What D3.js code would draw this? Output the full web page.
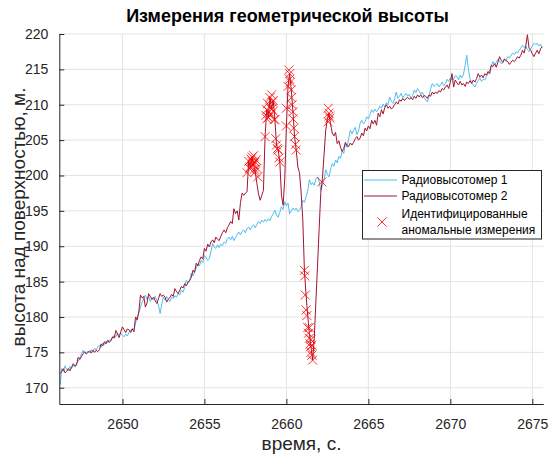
<!DOCTYPE html>
<html>
<head>
<meta charset="utf-8">
<script src="https://cdn.jsdelivr.net/npm/d3@7"></script>
<style>
  html, body { margin: 0; padding: 0; background: #fff; }
  svg { display: block; font-family: "Liberation Sans", Arial, Helvetica, sans-serif; }
</style>
</head>
<body>
<svg id="chart" width="548" height="455"></svg>
<script>
// Sampling of both altimeters: 10 Hz starting at t = 2646.2 s
const sampleStart = 2646.2;
const sampleStep = 0.1;

// Radio altimeter 1, m (one row per second)
const altimeter1 = [
  170.4, 172.7, 172.3, 173.1, 172.6, 172.4, 173.0, 172.7, 173.2, 172.9,
  173.4, 173.7, 174.2, 174.8, 175.3, 174.9, 174.8, 175.2, 174.9, 175.4,
  175.1, 175.6, 175.3, 175.8, 176.0, 175.7, 176.3, 176.1, 176.6, 176.4,
  176.8, 176.6, 177.1, 177.4, 177.2, 177.7, 177.5, 177.7, 177.4, 177.2,
  177.6, 177.3, 177.8, 178.1, 178.4, 178.2, 179.1, 180.0, 180.6, 181.4,
  182.1, 182.6, 183.1, 182.5, 182.9, 182.2, 182.7, 182.4, 182.9, 182.3,
  181.6, 180.5, 181.8, 182.8, 182.4, 182.9, 182.5, 182.2, 182.8, 182.6,
  183.0, 182.8, 183.3, 183.1, 183.8, 183.5, 184.2, 185.2, 184.8, 185.0,
  186.2, 185.8, 186.4, 186.9, 187.5, 187.2, 188.0, 187.7, 188.7, 188.4,
  188.0, 188.3, 189.2, 190.4, 189.9, 189.7, 190.2, 189.8, 190.3, 190.1,
  190.6, 190.4, 191.0, 191.3, 190.9, 191.4, 190.8, 191.2, 191.7, 192.0,
  191.6, 192.1, 192.3, 191.9, 192.5, 192.7, 192.3, 192.8, 193.0, 192.6,
  193.1, 193.5, 193.2, 193.7, 193.4, 193.8, 193.5, 193.9, 193.6, 194.2,
  194.6, 195.1, 194.4, 194.1, 194.8, 195.6, 195.2, 196.3, 195.7, 196.1,
  194.6, 195.0, 195.4, 195.1, 195.4, 194.9, 195.1, 195.6, 196.5, 196.2,
  197.0, 197.8, 199.4, 198.7, 199.0, 198.6, 199.5, 199.8, 199.2, 197.9,
  198.6, 199.4, 200.8, 200.2, 199.8, 200.9, 201.7, 201.3, 202.2, 201.8,
  202.7, 202.4, 203.5, 203.1, 204.5, 204.0, 205.2, 206.4, 205.9, 206.4,
  206.8, 205.8, 206.3, 207.4, 207.8, 207.3, 207.6, 208.3, 208.0, 208.6,
  209.3, 208.9, 209.4, 209.0, 209.3, 209.8, 209.5, 210.1, 209.7, 210.3,
  210.0, 211.1, 210.5, 210.2, 210.8, 211.8, 210.9, 211.2, 211.6, 211.0,
  211.3, 211.6, 211.2, 211.5, 210.9, 211.3, 212.1, 211.7, 212.3, 211.9,
  211.5, 211.8, 211.0, 210.7, 210.4, 211.2, 212.3, 213.0, 212.6, 212.8,
  213.0, 212.5, 212.8, 213.2, 212.7, 213.0, 213.6, 213.3, 213.8, 213.5,
  213.6, 214.1, 214.0, 213.5, 214.2, 213.8, 214.3, 215.5, 217.0, 215.0,
  213.7, 213.1, 212.8, 212.5, 213.0, 213.4, 213.8, 213.3, 213.6, 213.5,
  214.0, 214.4, 214.9, 215.5, 216.1, 215.6, 216.0, 216.4, 216.2, 215.8,
  215.9, 216.4, 216.2, 216.8, 216.6, 217.0, 217.3, 217.1, 217.5, 217.3,
  217.7, 218.0, 218.4, 218.1, 218.3, 217.8, 217.5, 217.9, 218.3, 218.7,
  218.5, 218.7, 218.3, 218.6, 218.1
];

// Radio altimeter 2, m (one row per second)
const altimeter2 = [
  172.0, 172.3, 172.7, 172.1, 172.3, 172.7, 172.4, 172.9, 173.4, 173.1,
  173.2, 174.3, 174.0, 174.4, 174.8, 175.1, 174.8, 175.0, 175.2, 174.9,
  175.3, 175.0, 175.3, 175.1, 175.4, 176.2, 175.9, 176.5, 176.2, 176.7,
  176.4, 176.7, 177.2, 177.0, 178.1, 177.6, 177.1, 177.9, 178.6, 178.2,
  177.8, 178.3, 178.2, 177.8, 178.3, 177.9, 180.0, 179.6, 180.7, 183.1,
  182.7, 182.9, 181.4, 182.0, 183.3, 182.9, 182.5, 182.8, 182.3, 181.9,
  182.6, 183.3, 182.9, 183.1, 182.8, 182.1, 182.5, 182.8, 183.2, 182.9,
  184.0, 183.6, 183.3, 183.8, 184.3, 184.1, 184.7, 184.4, 184.9, 185.2,
  185.6, 186.6, 186.3, 187.6, 187.2, 188.0, 188.5, 188.2, 189.7, 189.3,
  190.3, 189.9, 190.6, 190.9, 190.5, 191.3, 191.0, 190.8, 191.4, 191.9,
  192.3, 191.9, 192.6, 193.0, 193.5, 193.2, 195.3, 194.6, 195.0, 193.7,
  196.2, 197.5, 197.2, 197.5, 197.7, 202.0, 201.2, 202.6, 201.5, 200.5,
  198.9, 197.4, 196.5, 197.2, 197.9, 205.5, 209.3, 208.2, 211.0, 209.4,
  210.6, 207.9, 204.3, 203.6, 201.9, 197.2, 195.8, 199.5, 207.0, 212.6,
  214.4, 212.1, 209.0, 205.5, 203.6, 201.2, 200.4, 197.6, 193.8, 186.6,
  183.1, 180.2, 177.7, 175.8, 173.9, 177.0, 182.2, 187.3, 192.5, 197.6,
  199.6, 203.0, 206.4, 207.9, 208.8, 207.2, 206.0, 205.6, 206.1, 204.5,
  204.9, 204.0, 203.4, 203.8, 204.7, 204.2, 204.1, 204.6, 204.3, 204.7,
  205.2, 205.5, 205.0, 205.3, 206.0, 205.6, 206.7, 206.3, 207.0, 206.6,
  207.8, 207.3, 207.8, 207.1, 208.8, 208.3, 209.3, 208.7, 209.6, 210.0,
  209.5, 209.8, 209.4, 209.6, 210.0, 210.4, 210.1, 210.7, 210.5, 210.9,
  210.6, 210.9, 211.0, 210.8, 211.0, 210.7, 211.2, 210.9, 211.4, 211.1,
  211.4, 211.0, 211.3, 211.2, 210.9, 211.4, 211.2, 211.8, 211.5, 211.8,
  211.6, 212.0, 211.8, 212.3, 212.1, 212.5, 212.8, 212.3, 213.2, 214.4,
  212.5, 213.5, 213.1, 212.8, 213.3, 212.8, 213.0, 212.6, 213.2, 213.0,
  213.4, 213.0, 213.5, 213.2, 213.7, 214.4, 213.9, 214.2, 213.8, 214.4,
  214.2, 214.7, 214.4, 215.6, 215.4, 215.8, 215.3, 216.0, 216.8, 216.3,
  216.0, 216.5, 216.2, 216.1, 215.7, 216.0, 216.3, 216.1, 216.4, 216.8,
  216.6, 217.0, 217.7, 217.3, 218.3, 219.9, 218.0, 217.7, 217.2, 216.8,
  217.3, 217.7, 217.2, 217.9, 218.2
];

// Identified anomalous measurements: times (s) and heights (m)
const anomalyTime = [
  2657.60, 2657.70, 2657.75, 2657.80, 2657.85, 2657.90, 2657.90, 2657.95, 2658.00, 2658.00,
  2658.05, 2658.10, 2658.10, 2658.15, 2658.20, 2658.25,
  2658.70, 2658.75, 2658.80, 2658.80, 2658.85, 2658.90, 2658.95, 2659.00, 2659.00, 2659.05,
  2659.10, 2659.10, 2659.15, 2659.20, 2659.20, 2659.25, 2659.30, 2659.35, 2659.40, 2659.45,
  2659.50, 2659.55, 2659.60,
  2660.00, 2660.00, 2660.10, 2660.15, 2660.20, 2660.20, 2660.25, 2660.30, 2660.30, 2660.35,
  2660.40, 2660.40, 2660.45, 2660.50, 2660.55, 2660.60,
  2661.10, 2661.12, 2661.15, 2661.20, 2661.25, 2661.30, 2661.35, 2661.40, 2661.40, 2661.45,
  2661.48, 2661.50, 2661.50, 2661.55, 2661.55, 2661.60,
  2662.16,
  2662.55, 2662.55, 2662.60, 2662.62, 2662.65
];
const anomalyHeight = [
  200.4, 202.0, 201.0, 201.2, 202.3, 202.6, 202.0, 201.6, 202.8, 201.5,
  200.9, 201.9, 200.5, 202.2, 201.0, 199.8,
  205.5, 208.5, 209.3, 208.0, 210.2, 208.2, 209.0, 211.0, 209.6, 208.6,
  209.4, 211.4, 210.4, 210.6, 209.1, 207.9, 207.9, 205.2, 204.3, 203.8,
  203.6, 202.5, 201.9,
  207.0, 209.5, 212.6, 214.9, 214.4, 213.6, 213.2, 212.1, 211.0, 210.0,
  209.0, 208.0, 206.7, 205.5, 204.4, 203.6,
  186.6, 185.8, 183.1, 181.0, 180.2, 178.5, 177.7, 177.0, 178.5, 176.2,
  175.8, 175.0, 176.8, 174.6, 176.0, 173.9,
  199.1,
  209.5, 207.6, 208.8, 208.4, 208.1
];

const xTicks = [2650, 2655, 2660, 2665, 2670, 2675];
const yTicks = [170, 175, 180, 185, 190, 195, 200, 205, 210, 215, 220];

const titleText = "Измерения геометрической высоты";
const xLabel = "время, с.";
const yLabel = "высота над поверхностью, м.";
const legendNames = ["Радиовысотомер 1", "Радиовысотомер 2"];
const legendAnomaly = ["Идентифицированные", "аномальные измерения"];

const colorA = "#4DBEEE";
const colorB = "#A2142F";
const colorMark = "#FF0000";
const axisColor = "#262626";
const gridColor = "#e3e3e3";

const plot = { left: 59.3, right: 543.3, top: 34, bottom: 404 };

const svg = d3.select("#chart");

const x = d3.scaleLinear().domain([2646.15, 2675.67]).range([plot.left, plot.right]);
const y = d3.scaleLinear().domain([167.7, 220]).range([plot.bottom, plot.top]);

const sampleTimes = d3.range(altimeter1.length).map(i => sampleStart + i * sampleStep);
const seriesA = sampleTimes.map((t, i) => [t, altimeter1[i]]);
const seriesB = sampleTimes.map((t, i) => [t, altimeter2[i]]);
const anomalies = anomalyTime.map((t, i) => [t, anomalyHeight[i]]);

// grid
const grid = svg.append("g");
grid.selectAll("line.gx").data(xTicks).join("line")
  .attr("x1", d => x(d)).attr("x2", d => x(d))
  .attr("y1", plot.top).attr("y2", plot.bottom)
  .attr("stroke", gridColor).attr("stroke-width", 1);
grid.selectAll("line.gy").data(yTicks).join("line")
  .attr("x1", plot.left).attr("x2", plot.right)
  .attr("y1", d => y(d)).attr("y2", d => y(d))
  .attr("stroke", gridColor).attr("stroke-width", 1);

// clip region for the data
svg.append("defs").append("clipPath").attr("id", "plotClip")
  .append("rect")
  .attr("x", plot.left).attr("y", plot.top)
  .attr("width", plot.right - plot.left).attr("height", plot.bottom - plot.top);

const dataG = svg.append("g").attr("clip-path", "url(#plotClip)");
const line = d3.line().x(d => x(d[0])).y(d => y(d[1]));

dataG.append("path").datum(seriesA)
  .attr("d", line).attr("fill", "none")
  .attr("stroke", colorA).attr("stroke-width", 1).attr("stroke-linejoin", "round");
dataG.append("path").datum(seriesB)
  .attr("d", line).attr("fill", "none")
  .attr("stroke", colorB).attr("stroke-width", 1).attr("stroke-linejoin", "round");

const cross = "M-4.5,-4.5L4.5,4.5M-4.5,4.5L4.5,-4.5";
dataG.selectAll("path.anom").data(anomalies).join("path")
  .attr("class", "anom")
  .attr("d", cross)
  .attr("transform", d => `translate(${x(d[0])},${y(d[1])})`)
  .attr("fill", "none").attr("stroke", colorMark).attr("stroke-width", 0.8);

// axes (ticks pointing inward)
const xAxis = d3.axisBottom(x).tickValues(xTicks).tickSizeInner(-5).tickSizeOuter(0).tickPadding(15).tickFormat(d3.format("d"));
const yAxis = d3.axisLeft(y).tickValues(yTicks).tickSizeInner(-5).tickSizeOuter(0).tickPadding(11).tickFormat(d3.format("d"));

const gx = svg.append("g").attr("transform", `translate(0,${plot.bottom})`).call(xAxis);
const gy = svg.append("g").attr("transform", `translate(${plot.left},0)`).call(yAxis);
[gx, gy].forEach(g => {
  g.select(".domain").attr("stroke", axisColor).attr("stroke-width", 1);
  g.selectAll(".tick line").attr("stroke", axisColor);
  g.selectAll(".tick text").attr("fill", axisColor)
    .style("font-size", "14px").style("font-family", "'Liberation Sans', Arial, sans-serif");
});

// title and axis labels
svg.append("text").attr("x", 287.5).attr("y", 21.5)
  .attr("text-anchor", "middle").attr("font-weight", "bold")
  .attr("font-size", 18).attr("fill", "#000").text(titleText);
svg.append("text").attr("x", 301.5).attr("y", 450)
  .attr("text-anchor", "middle").attr("font-size", 19).attr("fill", axisColor).text(xLabel);
svg.append("text").attr("transform", "translate(25,217) rotate(-90)")
  .attr("text-anchor", "middle").attr("font-size", 19).attr("fill", axisColor).text(yLabel);

// legend
const lg = svg.append("g");
lg.append("rect").attr("x", 362.5).attr("y", 170.5).attr("width", 179).attr("height", 68.5)
  .attr("fill", "#fff").attr("stroke", axisColor).attr("stroke-width", 1);
[colorA, colorB].forEach((c, i) => {
  const yy = 180 + i * 16;
  lg.append("line").attr("x1", 364).attr("x2", 397).attr("y1", yy).attr("y2", yy)
    .attr("stroke", c).attr("stroke-width", 1);
  lg.append("text").attr("x", 401.5).attr("y", yy + 4.3)
    .attr("font-size", 12).attr("fill", "#000").text(legendNames[i]);
});
lg.append("path").attr("d", cross).attr("transform", "translate(382,222)")
  .attr("fill", "none").attr("stroke", colorMark).attr("stroke-width", 0.8);
legendAnomaly.forEach((s, i) => {
  lg.append("text").attr("x", 401.5).attr("y", 218.3 + i * 16)
    .attr("font-size", 12).attr("fill", "#000").text(s);
});
</script>
</body>
</html>
